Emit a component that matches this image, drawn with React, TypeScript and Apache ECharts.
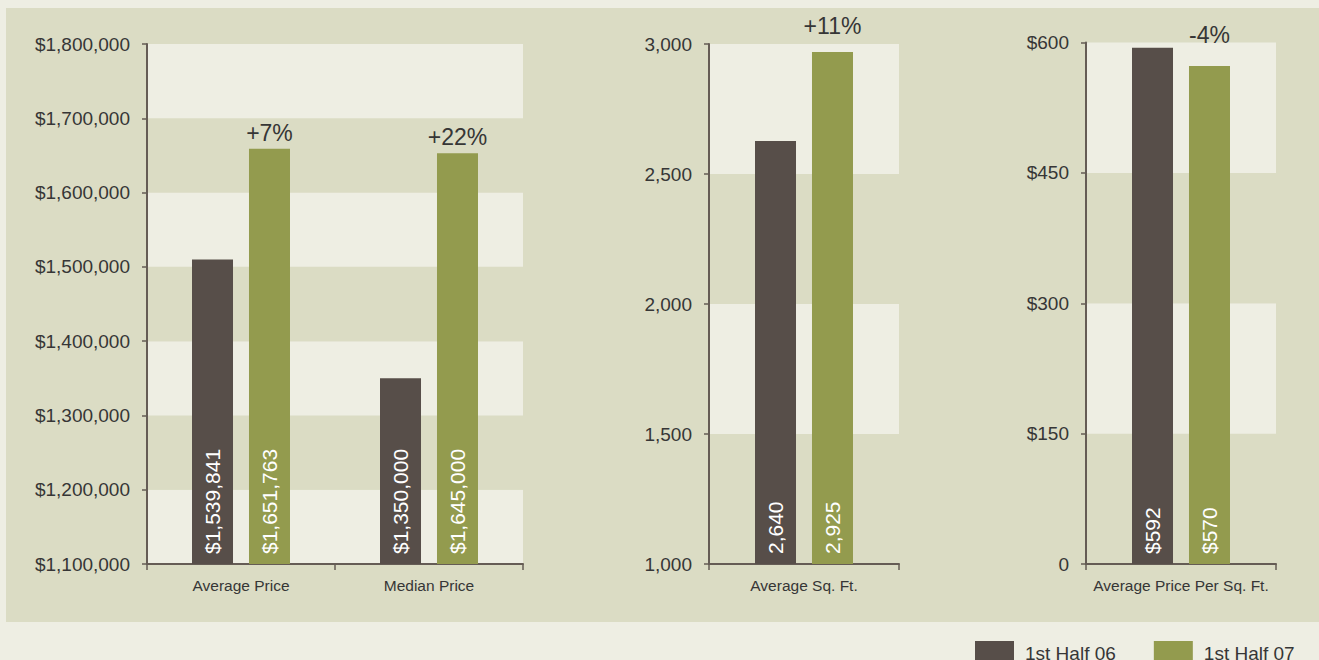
import React, { useEffect, useRef } from 'react';
import * as echarts from 'echarts';

const seriesNames = ['1st Half 06', '1st Half 07'];

const priceCategories = ['Average Price', 'Median Price'];
const priceHalf06 = [1510000, 1350000];
const priceHalf07 = [1659000, 1653000];
const priceLabels06 = ['$1,539,841', '$1,350,000'];
const priceLabels07 = ['$1,651,763', '$1,645,000'];
const priceChange = ['+7%', '+22%'];
const priceTicks = ['$1,100,000', '$1,200,000', '$1,300,000', '$1,400,000', '$1,500,000', '$1,600,000', '$1,700,000', '$1,800,000'];

const sqftCategories = ['Average Sq. Ft.'];
const sqftHalf06 = [2627];
const sqftHalf07 = [2969];
const sqftLabels06 = ['2,640'];
const sqftLabels07 = ['2,925'];
const sqftChange = ['+11%'];
const sqftTicks = ['1,000', '1,500', '2,000', '2,500', '3,000'];

const ppsfCategories = ['Average Price Per Sq. Ft.'];
const ppsfHalf06 = [594];
const ppsfHalf07 = [573];
const ppsfLabels06 = ['$592'];
const ppsfLabels07 = ['$570'];
const ppsfChange = ['-4%'];
const ppsfTicks = ['0', '$150', '$300', '$450', '$600'];

const LIGHT = '#eeeee3';
const PANEL = '#dbdcc4';
const DARK = '#574e49';
const GREEN = '#939b4e';
const AXIS = '#655c55';
const TEXT = '#363636';
const FONT = '"Liberation Sans", Arial, sans-serif';

export default function App() {
  const ref = useRef<HTMLDivElement>(null);

  useEffect(() => {
    document.body.style.margin = '0';
    if (!ref.current) return;
    const chart = echarts.init(ref.current, undefined, { renderer: 'svg' });

    const panels = [
      { cats: priceCategories, d06: priceHalf06, d07: priceHalf07, l06: priceLabels06, l07: priceLabels07, change: priceChange, changeDist: [4, 4], ticks: priceTicks, min: 1100000, max: 1800000, interval: 100000, bands: [LIGHT, PANEL], left: 147, width: 376, top: 44, height: 520 },
      { cats: sqftCategories, d06: sqftHalf06, d07: sqftHalf07, l06: sqftLabels06, l07: sqftLabels07, change: sqftChange, changeDist: [14], ticks: sqftTicks, min: 1000, max: 3000, interval: 500, bands: [PANEL, LIGHT], left: 709, width: 190, top: 44, height: 520 },
      { cats: ppsfCategories, d06: ppsfHalf06, d07: ppsfHalf07, l06: ppsfLabels06, l07: ppsfLabels07, change: ppsfChange, changeDist: [19], ticks: ppsfTicks, min: 0, max: 600, interval: 150, bands: [PANEL, LIGHT], left: 1086, width: 190, top: 42.5, height: 521.5 },
    ];

    const grid: any[] = [];
    const xAxis: any[] = [];
    const yAxis: any[] = [];
    const series: any[] = [];

    const insideLabel = (texts: string[]) => ({
      show: true,
      position: 'insideBottom',
      rotate: 90,
      align: 'left',
      verticalAlign: 'middle',
      distance: 10,
      color: '#ffffff',
      fontSize: 21,
      fontFamily: FONT,
      formatter: (p: any) => texts[p.dataIndex],
    });

    panels.forEach((p, i) => {
      grid.push({ left: p.left, top: p.top, width: p.width, height: p.height, containLabel: false });
      xAxis.push({
        type: 'category',
        gridIndex: i,
        data: p.cats,
        axisLine: { show: true, lineStyle: { color: AXIS, width: 2 } },
        axisTick: { show: true, length: 6, lineStyle: { color: AXIS, width: 1.5 } },
        axisLabel: { color: TEXT, fontSize: 15.5, fontFamily: FONT, margin: 13 },
        splitLine: { show: false },
      });
      yAxis.push({
        type: 'value',
        gridIndex: i,
        min: p.min,
        max: p.max,
        interval: p.interval,
        axisLine: { show: true, lineStyle: { color: AXIS, width: 2 } },
        axisTick: { show: true, length: 5, lineStyle: { color: AXIS, width: 1.5 } },
        axisLabel: {
          color: TEXT,
          fontSize: 19,
          fontFamily: FONT,
          margin: 17,
          formatter: (_v: number, idx: number) => p.ticks[idx],
        },
        splitLine: { show: false },
        splitArea: { show: true, areaStyle: { color: p.bands } },
      });
      series.push({
        type: 'bar',
        name: seriesNames[0],
        xAxisIndex: i,
        yAxisIndex: i,
        data: p.d06,
        barWidth: 41,
        barGap: '39%',
        itemStyle: { color: DARK },
        label: insideLabel(p.l06),
      });
      series.push({
        type: 'bar',
        name: seriesNames[1],
        xAxisIndex: i,
        yAxisIndex: i,
        data: p.d07,
        barWidth: 41,
        barGap: '39%',
        itemStyle: { color: GREEN },
        label: insideLabel(p.l07),
        markPoint: {
          symbol: 'rect',
          symbolSize: 1,
          itemStyle: { color: 'rgba(0,0,0,0)' },
          label: {
            show: true,
            position: 'top',
            color: TEXT,
            fontSize: 23,
            fontFamily: FONT,
            formatter: '{b}',
          },
          data: p.cats.map((c, k) => ({
            name: p.change[k],
            coord: [c, p.d07[k]],
            label: { distance: p.changeDist[k] },
          })),
        },
      });
    });

    chart.setOption({
      animation: false,
      backgroundColor: 'transparent',
      textStyle: { fontFamily: FONT },
      legend: {
        data: seriesNames,
        left: 975,
        top: 641,
        padding: 0,
        itemWidth: 39,
        itemHeight: 24,
        itemGap: 38,
        icon: 'rect',
        selectedMode: false,
        textStyle: { color: TEXT, fontSize: 19, fontFamily: FONT, padding: [0, 0, 13, 6] },
      },
      grid,
      xAxis,
      yAxis,
      series,
    });

    return () => chart.dispose();
  }, []);

  return (
    <div style={{ position: 'relative', width: 1319, height: 660, background: LIGHT, overflow: 'hidden' }}>
      <div style={{ position: 'absolute', left: 6, top: 8, width: 1313, height: 614, background: PANEL }} />
      <div ref={ref} style={{ position: 'absolute', left: 0, top: 0, width: 1319, height: 660 }} />
    </div>
  );
}
